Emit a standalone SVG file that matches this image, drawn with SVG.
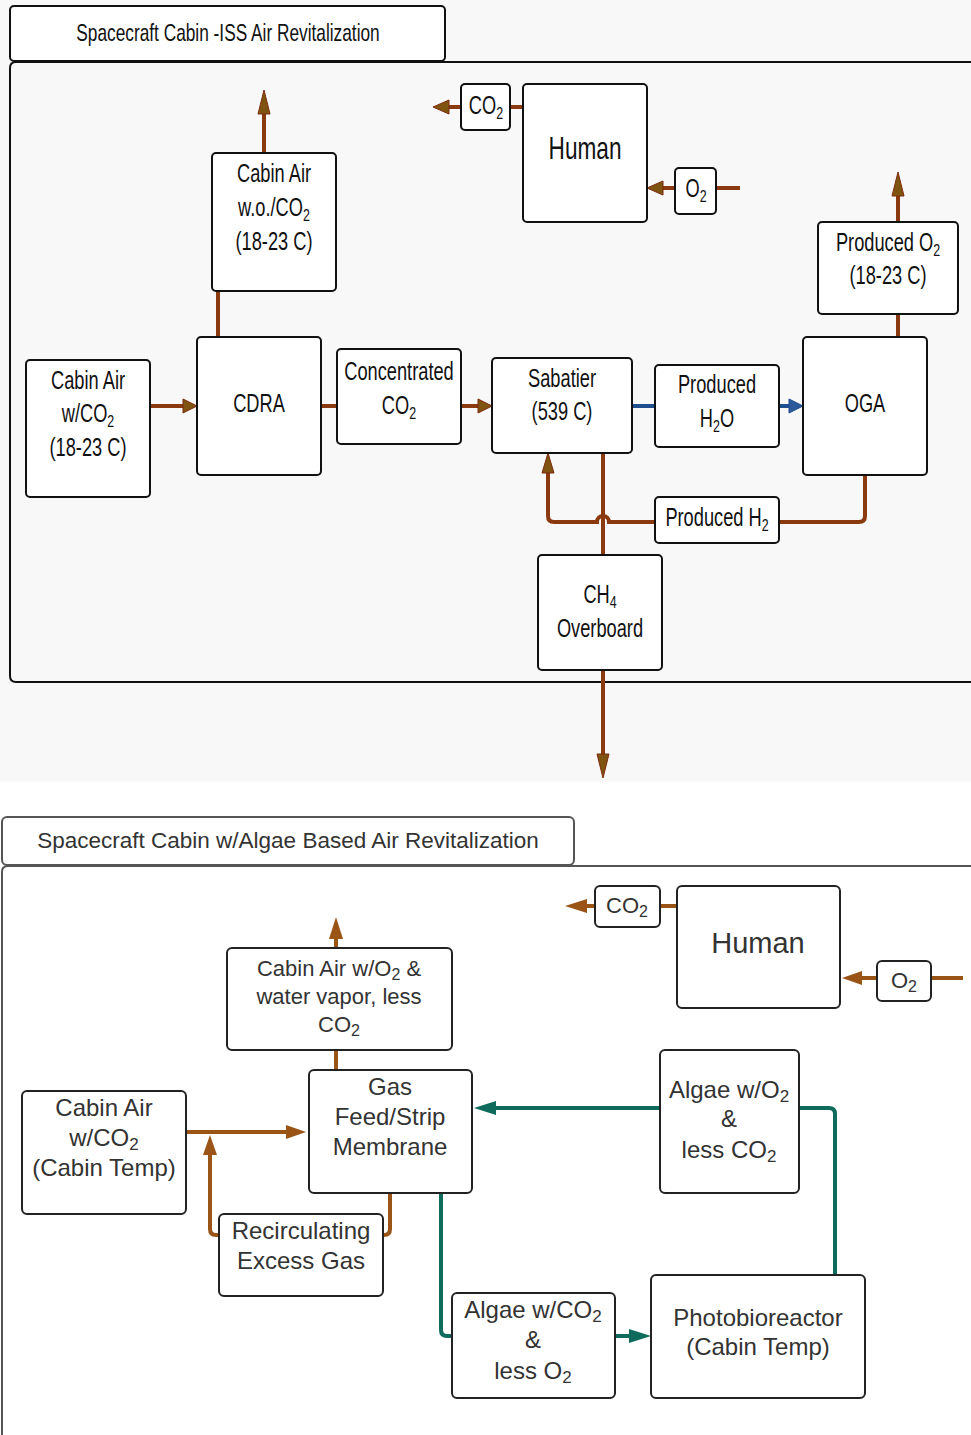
<svg xmlns="http://www.w3.org/2000/svg" width="971" height="1435" viewBox="0 0 971 1435">
<style>
.bg{fill:#f8f8f8}
.box{fill:#fff;stroke:#111;stroke-width:2}
.box2{fill:#fff;stroke:#222;stroke-width:2}
.frame{fill:none;stroke:#111;stroke-width:2}
.frame2{fill:none;stroke:#555;stroke-width:2}
.tt{font-family:"Liberation Sans",Arial,sans-serif;fill:#111;text-anchor:middle;font-size:25px}
.bt{font-family:"Liberation Sans",Arial,sans-serif;fill:#333;text-anchor:middle;font-size:24px}
.cb{fill:none;stroke:#8b3a10;stroke-width:4}
.cblue{fill:none;stroke:#1f4f8f;stroke-width:4}
.cb2{fill:none;stroke:#9a5416;stroke-width:4}
.cg{fill:none;stroke:#0f6b5b;stroke-width:4}
</style>
<defs>
<marker id="tA14" markerUnits="userSpaceOnUse" markerWidth="16" markerHeight="16" refX="0" refY="7" orient="auto" overflow="visible"><path d="M0,0 L14,7 L0,14 Z" fill="#7f5410" stroke="#7d2a0c" stroke-width="1"/></marker>
<marker id="tA16" markerUnits="userSpaceOnUse" markerWidth="18" markerHeight="16" refX="0" refY="7" orient="auto" overflow="visible"><path d="M0,0 L16,7 L0,14 Z" fill="#7f5410" stroke="#7d2a0c" stroke-width="1"/></marker>
<marker id="tA20" markerUnits="userSpaceOnUse" markerWidth="22" markerHeight="16" refX="0" refY="6" orient="auto" overflow="visible"><path d="M0,0 L20,6 L0,12 Z" fill="#7f5410" stroke="#7d2a0c" stroke-width="1"/></marker>
<marker id="tA24" markerUnits="userSpaceOnUse" markerWidth="26" markerHeight="16" refX="0" refY="6" orient="auto" overflow="visible"><path d="M0,0 L24,6 L0,12 Z" fill="#7f5410" stroke="#7d2a0c" stroke-width="1"/></marker>
<marker id="bl14" markerUnits="userSpaceOnUse" markerWidth="16" markerHeight="16" refX="0" refY="7" orient="auto" overflow="visible"><path d="M0,0 L14,7 L0,14 Z" fill="#2a5a9a" stroke="#1f4f8f" stroke-width="1"/></marker>
<marker id="bB20" markerUnits="userSpaceOnUse" markerWidth="22" markerHeight="16" refX="0" refY="7" orient="auto" overflow="visible"><path d="M0,0 L20,7 L0,14 Z" fill="#9a5416"/></marker>
<marker id="bB22" markerUnits="userSpaceOnUse" markerWidth="24" markerHeight="16" refX="0" refY="7" orient="auto" overflow="visible"><path d="M0,0 L22,7 L0,14 Z" fill="#9a5416"/></marker>
<marker id="gG22" markerUnits="userSpaceOnUse" markerWidth="24" markerHeight="16" refX="0" refY="7" orient="auto" overflow="visible"><path d="M0,0 L22,7 L0,14 Z" fill="#0f6b5b"/></marker>
</defs>

<rect class="bg" x="0" y="0" width="971" height="782"/>
<rect x="0" y="782" width="971" height="653" fill="#fff"/>

<!-- TOP SECTION -->
<g id="top-title">
<rect class="box" x="10" y="6" width="435" height="55" rx="4"/>
<text class="tt" transform="matrix(0.72 0 0 1 228 0)" x="0" y="41" style="font-size:24px">Spacecraft Cabin -ISS Air Revitalization</text>
</g>
<g id="top-frame"><path class="frame" d="M971,62 H16 Q10,62 10,68 V676 Q10,682 16,682 H971"/></g>

<g id="top-connectors">
<path class="cb" d="M264,153 V114" marker-end="url(#tA24)"/>
<path class="cb" d="M218,337 V291"/>
<path class="cb" d="M523,107 H510"/>
<path class="cb" d="M461,107 H449" marker-end="url(#tA16)"/>
<path class="cb" d="M740,188 H716"/>
<path class="cb" d="M675,188 H663" marker-end="url(#tA16)"/>
<path class="cb" d="M898,337 V314"/>
<path class="cb" d="M898,222 V196" marker-end="url(#tA24)"/>
<path class="cb" d="M150,406 H183" marker-end="url(#tA14)"/>
<path class="cb" d="M321,406 H337"/>
<path class="cb" d="M461,406 H478" marker-end="url(#tA14)"/>
<path class="cblue" d="M632,406 H655"/>
<path class="cblue" d="M779,406 H789" marker-end="url(#bl14)"/>
<path class="cb" d="M865,475 V516 Q865,522 859,522 H779"/>
<path class="cb" d="M655,522 H609 A6,6 0 0 0 597,522 H554 Q548,522 548,516 V473" marker-end="url(#tA20)"/>
<path class="cb" d="M603,453 V555"/>
<path class="cb" d="M603,670 V754" marker-end="url(#tA24)"/>
</g>

<g id="n-cabin-air-wo">
<rect class="box" x="212" y="153" width="124" height="138" rx="4"/>
<text class="tt" transform="matrix(0.73 0 0 1 274 0)"><tspan x="0" y="182">Cabin Air</tspan><tspan x="0" y="216">w.o./CO<tspan font-size="17" dy="5">2</tspan></tspan><tspan x="0" y="250">(18-23 C)</tspan></text>
</g>
<g id="n-top-co2">
<rect class="box" x="461" y="84" width="49" height="46" rx="4"/>
<text class="tt" transform="matrix(0.73 0 0 1 486 0)"><tspan x="0" y="114">CO<tspan font-size="17" dy="5">2</tspan></tspan></text>
</g>
<g id="n-top-human">
<rect class="box" x="523" y="84" width="124" height="138" rx="4"/>
<text class="tt" transform="matrix(0.73 0 0 1 585 0)" x="0" y="159" style="font-size:31px">Human</text>
</g>
<g id="n-top-o2">
<rect class="box" x="675" y="168" width="41" height="46" rx="4"/>
<text class="tt" transform="matrix(0.73 0 0 1 696 0)"><tspan x="0" y="197">O<tspan font-size="17" dy="5">2</tspan></tspan></text>
</g>
<g id="n-produced-o2">
<rect class="box" x="818" y="222" width="140" height="92" rx="4"/>
<text class="tt" transform="matrix(0.73 0 0 1 888 0)"><tspan x="0" y="251">Produced O<tspan font-size="17" dy="5">2</tspan></tspan><tspan x="0" y="284">(18-23 C)</tspan></text>
</g>
<g id="n-cabin-air-w">
<rect class="box" x="26" y="360" width="124" height="137" rx="4"/>
<text class="tt" transform="matrix(0.73 0 0 1 88 0)"><tspan x="0" y="389">Cabin Air</tspan><tspan x="0" y="422">w/CO<tspan font-size="17" dy="5">2</tspan></tspan><tspan x="0" y="456">(18-23 C)</tspan></text>
</g>
<g id="n-cdra">
<rect class="box" x="197" y="337" width="124" height="138" rx="4"/>
<text class="tt" transform="matrix(0.73 0 0 1 259 0)" x="0" y="412">CDRA</text>
</g>
<g id="n-concentrated">
<rect class="box" x="337" y="349" width="124" height="95" rx="4"/>
<text class="tt" transform="matrix(0.73 0 0 1 399 0)"><tspan x="0" y="380">Concentrated</tspan><tspan x="0" y="414">CO<tspan font-size="17" dy="5">2</tspan></tspan></text>
</g>
<g id="n-sabatier">
<rect class="box" x="492" y="358" width="140" height="95" rx="4"/>
<text class="tt" transform="matrix(0.73 0 0 1 562 0)"><tspan x="0" y="387">Sabatier</tspan><tspan x="0" y="420">(539 C)</tspan></text>
</g>
<g id="n-produced-h2o">
<rect class="box" x="655" y="365" width="124" height="82" rx="4"/>
<text class="tt" transform="matrix(0.73 0 0 1 717 0)"><tspan x="0" y="393">Produced</tspan><tspan x="0" y="427">H<tspan font-size="17" dy="5">2</tspan><tspan dy="-5">O</tspan></tspan></text>
</g>
<g id="n-oga">
<rect class="box" x="803" y="337" width="124" height="138" rx="4"/>
<text class="tt" transform="matrix(0.73 0 0 1 865 0)" x="0" y="412">OGA</text>
</g>
<g id="n-produced-h2">
<rect class="box" x="655" y="497" width="124" height="46" rx="4"/>
<text class="tt" transform="matrix(0.73 0 0 1 717 0)"><tspan x="0" y="526">Produced H<tspan font-size="17" dy="5">2</tspan></tspan></text>
</g>
<g id="n-ch4">
<rect class="box" x="538" y="555" width="124" height="115" rx="4"/>
<text class="tt" transform="matrix(0.73 0 0 1 600 0)"><tspan x="0" y="603">CH<tspan font-size="17" dy="5">4</tspan></tspan><tspan x="0" y="637">Overboard</tspan></text>
</g>

<!-- BOTTOM SECTION -->
<g id="bottom-title">
<rect fill="#fff" stroke="#555" stroke-width="2" x="2" y="817" width="572" height="48" rx="5"/>
<text class="bt" x="288" y="848" style="font-size:22.5px">Spacecraft Cabin w/Algae Based Air Revitalization</text>
</g>
<g id="bottom-frame"><path class="frame2" d="M971,866 H8 Q2,866 2,872 V1435"/></g>

<g id="bottom-connectors">
<path class="cb2" d="M677,906 H660"/>
<path class="cb2" d="M595,906 H587" marker-end="url(#bB22)"/>
<path class="cb2" d="M963,978 H931"/>
<path class="cb2" d="M877,978 H862" marker-end="url(#bB20)"/>
<path class="cb2" d="M336,948 V939" marker-end="url(#bB22)"/>
<path class="cb2" d="M336,1070 V1050"/>
<path class="cb2" d="M186,1132 H286" marker-end="url(#bB20)"/>
<path class="cb2" d="M219,1235 H216 Q210,1235 210,1229 V1155" marker-end="url(#bB20)"/>
<path class="cb2" d="M390,1193 V1229 Q390,1235 384,1235 H383"/>
<path class="cg" d="M660,1108 H496" marker-end="url(#gG22)"/>
<path class="cg" d="M799,1108 H829 Q835,1108 835,1114 V1275"/>
<path class="cg" d="M441,1193 V1330 Q441,1336 447,1336 H452"/>
<path class="cg" d="M615,1336 H629" marker-end="url(#gG22)"/>
</g>

<g id="n-bot-co2">
<rect class="box2" x="595" y="886" width="65" height="41" rx="5"/>
<text class="bt" style="font-size:22px"><tspan x="627" y="913">CO<tspan font-size="16" dy="4">2</tspan></tspan></text>
</g>
<g id="n-bot-human">
<rect class="box2" x="677" y="886" width="163" height="122" rx="5"/>
<text class="bt" x="758" y="953" style="font-size:29px">Human</text>
</g>
<g id="n-bot-o2">
<rect class="box2" x="877" y="961" width="54" height="40" rx="5"/>
<text class="bt" style="font-size:22px"><tspan x="904" y="988">O<tspan font-size="16" dy="4">2</tspan></tspan></text>
</g>
<g id="n-cabin-air-o2">
<rect class="box2" x="227" y="948" width="225" height="102" rx="5"/>
<text class="bt" style="font-size:22px"><tspan x="339" y="976">Cabin Air w/O<tspan font-size="16" dy="4">2</tspan><tspan dy="-4"> &amp;</tspan></tspan><tspan x="339" y="1004">water vapor, less</tspan><tspan x="339" y="1032">CO<tspan font-size="16" dy="4">2</tspan></tspan></text>
</g>
<g id="n-gas-membrane">
<rect class="box2" x="309" y="1070" width="163" height="123" rx="5"/>
<text class="bt"><tspan x="390" y="1095">Gas</tspan><tspan x="390" y="1125">Feed/Strip</tspan><tspan x="390" y="1155">Membrane</tspan></text>
</g>
<g id="n-cabin-air-bottom">
<rect class="box2" x="22" y="1091" width="164" height="123" rx="5"/>
<text class="bt"><tspan x="104" y="1116">Cabin Air</tspan><tspan x="104" y="1146">w/CO<tspan font-size="17" dy="4">2</tspan></tspan><tspan x="104" y="1176">(Cabin Temp)</tspan></text>
</g>
<g id="n-recirculating">
<rect class="box2" x="219" y="1214" width="164" height="82" rx="5"/>
<text class="bt"><tspan x="301" y="1239">Recirculating</tspan><tspan x="301" y="1269">Excess Gas</tspan></text>
</g>
<g id="n-algae-o2">
<rect class="box2" x="660" y="1050" width="139" height="143" rx="5"/>
<text class="bt"><tspan x="729" y="1098">Algae w/O<tspan font-size="17" dy="4">2</tspan></tspan><tspan x="729" y="1127">&amp;</tspan><tspan x="729" y="1158">less CO<tspan font-size="17" dy="4">2</tspan></tspan></text>
</g>
<g id="n-algae-co2">
<rect class="box2" x="452" y="1293" width="163" height="105" rx="5"/>
<text class="bt"><tspan x="533" y="1318">Algae w/CO<tspan font-size="17" dy="4">2</tspan></tspan><tspan x="533" y="1348">&amp;</tspan><tspan x="533" y="1379">less O<tspan font-size="17" dy="4">2</tspan></tspan></text>
</g>
<g id="n-photobioreactor">
<rect class="box2" x="651" y="1275" width="214" height="123" rx="5"/>
<text class="bt"><tspan x="758" y="1326">Photobioreactor</tspan><tspan x="758" y="1355">(Cabin Temp)</tspan></text>
</g>
</svg>
